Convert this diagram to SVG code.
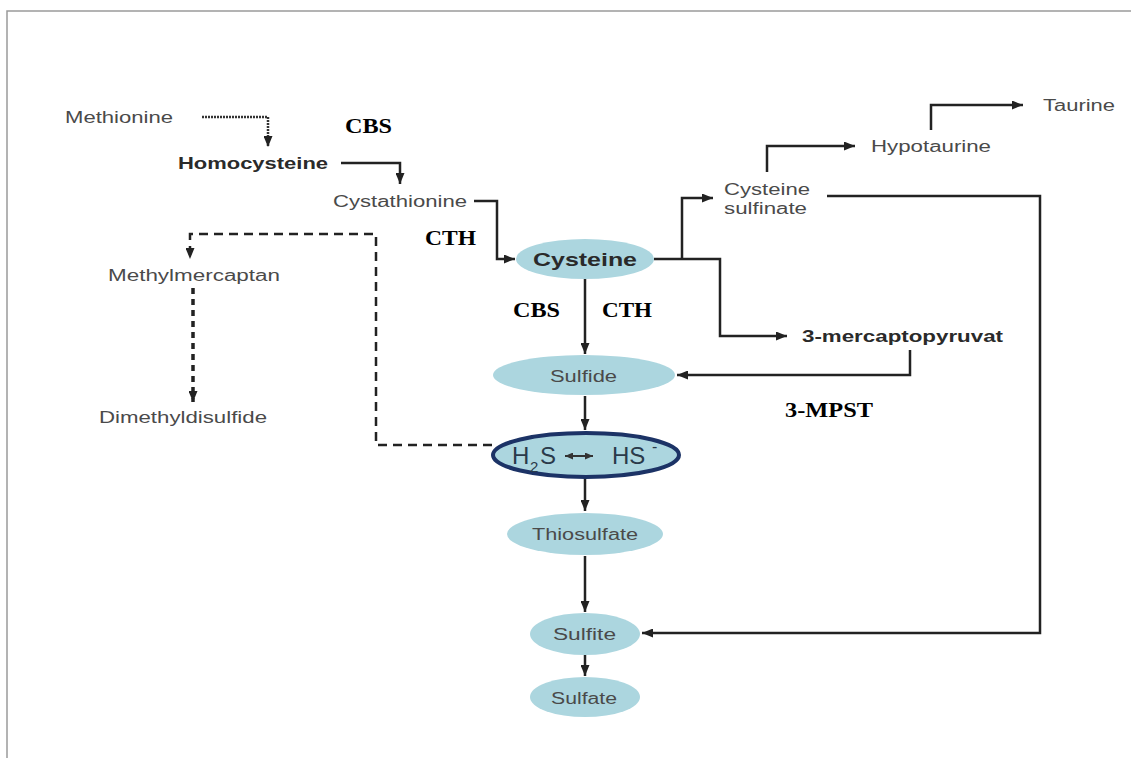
<svg xmlns="http://www.w3.org/2000/svg" width="1131" height="758" viewBox="0 0 1131 758">
<style>
.t{font-family:"Liberation Sans",Arial,sans-serif;fill:#4a4a4a;font-size:16px}
.b{font-family:"Liberation Sans",Arial,sans-serif;fill:#2a2a2a;font-size:16px;font-weight:bold}
.e{font-family:"Liberation Serif","Times New Roman",serif;fill:#000;font-size:22px;font-weight:bold}
.h{font-family:"Liberation Sans",Arial,sans-serif;fill:#2a3a4a;font-size:24px}
.ov{fill:#acd6df;stroke:none}
.c{fill:none;stroke:#222;stroke-width:2.5;marker-end:url(#ah)}
.d{fill:none;stroke:#222;stroke-width:2.5;stroke-dasharray:9,6;marker-end:url(#ah)}
</style>
<defs>
<marker id="ah" markerUnits="userSpaceOnUse" markerWidth="11" markerHeight="9" refX="11" refY="4.5" orient="auto">
<path d="M0,0 L11,4.5 L0,9 z" fill="#222"/>
</marker>
<marker id="as" markerUnits="userSpaceOnUse" markerWidth="8" markerHeight="7" refX="8" refY="3.5" orient="auto-start-reverse">
<path d="M0,0 L8,3.5 L0,7 z" fill="#333"/>
</marker>
</defs>
<rect width="1131" height="758" fill="#fff"/>
<path d="M7,758 L7,11 L1131,11" fill="none" stroke="#9a9a9a" stroke-width="1.5"/>

<g id="connectors">
<path d="M202,117 H268 V147" fill="none" stroke="#333" stroke-width="2.5" stroke-dasharray="2,1" marker-end="url(#ah)"/>
<path class="c" d="M341,163 H400 V184"/>
<path class="c" d="M474,201 H497 V259 H515"/>
<path class="c" d="M654,259 H720 V336 H787"/>
<path class="c" d="M682,259 V198 H713"/>
<path class="c" d="M767,172 V146 H855"/>
<path class="c" d="M931,130 V105 H1023"/>
<path class="c" d="M827,196 H1040 V633 H642"/>
<path class="c" d="M910,350 V375 H677"/>
<path class="c" d="M585,279 V354"/>
<path class="c" d="M585,396 V430"/>
<path class="c" d="M585,478 V511"/>
<path class="c" d="M585,556 V612"/>
<path class="c" d="M585,655 V676"/>
<path class="d" d="M492,445 H376 V234 H190 V259"/>
<path fill="none" stroke="#222" stroke-width="3.5" stroke-dasharray="6,5" marker-end="url(#ah)" d="M193,288 V402"/>
</g>

<g id="methionine"><text class="t" x="65" y="123" textLength="108" lengthAdjust="spacingAndGlyphs">Methionine</text></g>
<g id="homocysteine"><text class="b" x="178" y="169" textLength="150" lengthAdjust="spacingAndGlyphs">Homocysteine</text></g>
<g id="cystathionine"><text class="t" x="333" y="207" textLength="134" lengthAdjust="spacingAndGlyphs">Cystathionine</text></g>
<g id="methylmercaptan"><text class="t" x="108" y="281" textLength="172" lengthAdjust="spacingAndGlyphs">Methylmercaptan</text></g>
<g id="dimethyldisulfide"><text class="t" x="99" y="423" textLength="168" lengthAdjust="spacingAndGlyphs">Dimethyldisulfide</text></g>
<g id="cysteine">
<ellipse class="ov" cx="585" cy="259" rx="69" ry="20"/>
<text class="b" x="533" y="266" style="font-size:19px" textLength="104" lengthAdjust="spacingAndGlyphs">Cysteine</text>
</g>
<g id="cysteine-sulfinate">
<text class="t" x="724" y="195" textLength="86" lengthAdjust="spacingAndGlyphs">Cysteine</text>
<text class="t" x="724" y="214" textLength="83" lengthAdjust="spacingAndGlyphs">sulfinate</text>
</g>
<g id="hypotaurine"><text class="t" x="871" y="152" textLength="120" lengthAdjust="spacingAndGlyphs">Hypotaurine</text></g>
<g id="taurine"><text class="t" x="1043" y="111" textLength="72" lengthAdjust="spacingAndGlyphs">Taurine</text></g>
<g id="mercaptopyruvat"><text class="b" x="802" y="342" textLength="201" lengthAdjust="spacingAndGlyphs">3-mercaptopyruvat</text></g>
<g id="sulfide">
<ellipse class="ov" cx="584" cy="375" rx="91" ry="20"/>
<text class="t" x="550" y="382" textLength="67" lengthAdjust="spacingAndGlyphs">Sulfide</text>
</g>
<g id="h2s">
<ellipse cx="586" cy="455" rx="93" ry="22" fill="#acd6df" stroke="#1c3366" stroke-width="4"/>
<text class="h" y="464"><tspan x="512">H</tspan><tspan x="530" y="472" style="font-size:15px">2</tspan><tspan x="540" y="464">S</tspan><tspan x="612">HS</tspan><tspan x="652" y="452" style="font-size:16px">-</tspan></text>
<path d="M565,456 H593" stroke="#333" stroke-width="2" marker-start="url(#as)" marker-end="url(#as)"/>
</g>
<g id="thiosulfate">
<ellipse class="ov" cx="585" cy="534" rx="78" ry="21"/>
<text class="t" x="532" y="540" textLength="106" lengthAdjust="spacingAndGlyphs">Thiosulfate</text>
</g>
<g id="sulfite">
<ellipse class="ov" cx="585" cy="634" rx="55" ry="21"/>
<text class="t" x="553" y="640" textLength="63" lengthAdjust="spacingAndGlyphs">Sulfite</text>
</g>
<g id="sulfate">
<ellipse class="ov" cx="585" cy="697" rx="55" ry="20"/>
<text class="t" x="551" y="704" textLength="66" lengthAdjust="spacingAndGlyphs">Sulfate</text>
</g>
<g id="enzyme-labels">
<text class="e" x="345" y="133" textLength="47" lengthAdjust="spacingAndGlyphs">CBS</text>
<text class="e" x="425" y="245" textLength="51" lengthAdjust="spacingAndGlyphs">CTH</text>
<text class="e" x="513" y="317" textLength="47" lengthAdjust="spacingAndGlyphs">CBS</text>
<text class="e" x="602" y="317" textLength="50" lengthAdjust="spacingAndGlyphs">CTH</text>
<text class="e" x="785" y="417" textLength="88" lengthAdjust="spacingAndGlyphs">3-MPST</text>
</g>
</svg>
